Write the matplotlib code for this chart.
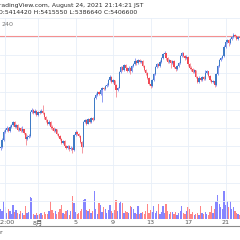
import numpy as np
import matplotlib
matplotlib.use('Agg')
import matplotlib.pyplot as plt
from matplotlib.lines import Line2D

# 4時間足 (index 0 = 7/28 00:00 JST), 価格は千円単位
open0 = 4180
closes = [
    4195, 4270, 4360, 4380, 4400, 4370, 4415, 4435, 4470, 4415,
    4435, 4380, 4400, 4370, 4390, 4345, 4280, 4305, 4315, 4575,
    4600, 4565, 4590, 4545, 4575, 4565, 4590, 4565, 4520, 4490,
    4445, 4470, 4415, 4400, 4370, 4390, 4335, 4315, 4280, 4240,
    4260, 4205, 4185, 4205, 4170, 4185, 4160, 4325, 4360, 4335,
    4315, 4250, 4195, 4470, 4490, 4445, 4500, 4470, 4510, 4490,
    4730, 4765, 4795, 4775, 4815, 4840, 4830, 4860, 4870, 4925,
    4960, 4905, 4925, 4870, 4815, 4840, 5015, 5070, 5035, 5090,
    5060, 5025, 5060, 5025, 5080, 5100, 5135, 5110, 5145, 5125,
    5135, 5080, 5035, 5000, 4950, 4885, 4860, 4925, 4990, 5070,
    5100, 5080, 5125, 5165, 5210, 5220, 5165, 5125, 5145, 5110,
    5135, 5070, 5045, 5080, 5110, 5190, 5220, 5190, 5165, 5180,
    5100, 5060, 5045, 5015, 5035, 4960, 4905, 4950, 4925, 4960,
    4940, 5000, 5025, 4970, 4925, 4905, 4915, 4870, 4990, 5080,
    5145, 5165, 5190, 5290, 5340, 5365, 5330, 5375, 5395, 5420,
    5410, 5375, 5395, 5385]
highs = [
    4225, 4290, 4375, 4400, 4420, 4410, 4430, 4450, 4480, 4475,
    4450, 4440, 4415, 4410, 4420, 4395, 4350, 4320, 4330, 4590,
    4615, 4610, 4605, 4595, 4590, 4595, 4610, 4655, 4575, 4530,
    4500, 4485, 4475, 4430, 4410, 4400, 4395, 4345, 4325, 4290,
    4275, 4265, 4215, 4220, 4210, 4200, 4195, 4340, 4375, 4365,
    4345, 4320, 4260, 4480, 4505, 4495, 4515, 4510, 4525, 4520,
    4745, 4780, 4810, 4805, 4830, 4850, 4855, 4875, 4890, 4940,
    4985, 4965, 4940, 4930, 4880, 4855, 5030, 5085, 5080, 5105,
    5100, 5070, 5075, 5065, 5095, 5115, 5170, 5145, 5160, 5155,
    5150, 5140, 5090, 5045, 5010, 4960, 4900, 4940, 5005, 5085,
    5115, 5110, 5140, 5180, 5225, 5245, 5225, 5175, 5160, 5150,
    5150, 5140, 5080, 5095, 5125, 5205, 5235, 5230, 5200, 5195,
    5185, 5110, 5075, 5055, 5050, 5040, 4970, 4965, 4960, 4975,
    4970, 5040, 5040, 5030, 4980, 4940, 4930, 4920, 5005, 5095,
    5160, 5180, 5205, 5305, 5355, 5380, 5375, 5390, 5410, 5445,
    5430, 5420, 5405, 5410]
lows = [
    4155, 4185, 4260, 4345, 4365, 4355, 4360, 4400, 4425, 4400,
    4405, 4365, 4370, 4355, 4360, 4330, 4215, 4270, 4295, 4305,
    4560, 4550, 4555, 4530, 4535, 4550, 4560, 4555, 4505, 4470,
    4430, 4435, 4395, 4380, 4355, 4360, 4320, 4300, 4265, 4225,
    4230, 4190, 4170, 4175, 4150, 4160, 4130, 4150, 4315, 4320,
    4300, 4235, 4130, 4190, 4455, 4430, 4440, 4455, 4460, 4475,
    4485, 4720, 4750, 4760, 4765, 4690, 4815, 4820, 4850, 4860,
    4915, 4890, 4895, 4855, 4745, 4805, 4835, 5005, 5020, 5025,
    5045, 5010, 5015, 4990, 5015, 5070, 5090, 5095, 5100, 5110,
    5115, 5065, 5020, 4985, 4935, 4870, 4840, 4850, 4915, 4980,
    5060, 5065, 5070, 5115, 5155, 5200, 5150, 5110, 5115, 5060,
    5100, 5055, 5030, 5035, 5070, 5100, 5180, 5175, 5150, 5155,
    5085, 5045, 5030, 5000, 5005, 4945, 4890, 4895, 4910, 4915,
    4925, 4930, 4990, 4955, 4910, 4890, 4895, 4855, 4865, 4980,
    5070, 5135, 5155, 5180, 5280, 5330, 5295, 5320, 5365, 5385,
    5395, 5360, 5365, 5370]
volumes = [
    10, 8, 18, 12, 6, 10, 8, 5, 14, 7,
    9, 6, 5, 8, 6, 4, 13, 6, 7, 22,
    21, 5, 4, 6, 4, 5, 6, 4, 7, 5,
    5, 8, 18, 9, 6, 8, 5, 7, 10, 14,
    6, 5, 8, 9, 4, 8, 23, 16, 7, 5,
    6, 8, 10, 19, 20, 9, 8, 10, 6, 8,
    28, 10, 5, 16, 14, 7, 12, 10, 6, 9,
    14, 8, 6, 9, 19, 8, 16, 18, 16, 6,
    8, 7, 6, 13, 12, 10, 6, 5, 13, 5,
    6, 7, 5, 8, 15, 6, 9, 7, 13, 6,
    8, 15, 5, 7, 13, 6, 15, 8, 5, 7,
    7, 5, 7, 4, 6, 8, 13, 6, 5, 8,
    12, 10, 5, 7, 4, 5, 6, 4, 13, 6,
    5, 7, 5, 4, 7, 13, 6, 10, 18, 24,
    15, 12, 10, 28, 14, 18, 12, 18, 10, 12,
    8, 6, 5, 4]

last_close = 5406.6
tick_pos = [3, 24, 48, 72, 96, 120, 144]
tick_labels = ['12:00', '8月', '5', '9', '13', '17', '21']
header1 = 'TradingView.com, August 24, 2021 21:14:21 JST'
header2 = 'O:5414420 H:5415550 L:5386640 C:5406600'

plt.rcParams['font.family'] = ['DejaVu Sans', 'Noto Sans CJK JP']

W = H = 240
fig = plt.figure(figsize=(2.4, 2.4), dpi=100)
fig.patch.set_facecolor('white')

def fx(px):
    return px / W

def fy(py):
    return 1 - py / H

rect = [0, fy(219), 1, fy(18) - fy(219)]
axv = fig.add_axes(rect, zorder=0)
ax = fig.add_axes(rect, zorder=1, sharex=axv)
ax.patch.set_alpha(0)

c = np.array(closes, dtype=float)
o = np.array([open0] + closes[:-1], dtype=float)
x = np.arange(len(c))
up = c >= o

up_col, dn_col = '#3f7cc6', '#f04a56'
body_col = [up_col if u else dn_col for u in up]
wick_col = ['#8796f2' if u else '#f5919a' for u in up]
vol_col = ['#8585ff' if u else '#ff8585' for u in up]

# 出来高
axv.bar(x, volumes, width=0.82, color=vol_col, linewidth=0)
axv.set_ylim(0, max(volumes) * 201 / 28)
axv.set_yticks([])
axv.tick_params(axis='x', length=0, labelbottom=False)
axv.set_facecolor('white')

# ローソク足
ax.vlines(x, lows, highs, colors=wick_col, linewidth=0.65, zorder=2)
ax.bar(x, np.maximum(np.abs(c - o), 5), bottom=np.minimum(o, c),
       width=0.82, color=body_col, linewidth=0, zorder=3)
ax.axhline(last_close, color='#f49090', linewidth=0.8, zorder=1)

ax.set_xlim(-0.32, 153.28)
ax.set_ylim(3405, 5605)
ax.set_yticks(range(3600, 5601, 200))
ax.set_xticks(tick_pos)
ax.set_xticklabels(tick_labels)
ax.grid(True, color='#e8eff8', linewidth=0.6, zorder=0)
ax.tick_params(axis='x', length=0, pad=0.6, labelsize=4.6, labelcolor='#555555')
ax.tick_params(axis='y', length=0, labelleft=False)
for a in (ax, axv):
    for s in a.spines.values():
        s.set_visible(False)

fig.add_artist(Line2D([0, 1], [fy(225.5)] * 2, color='#8a8a8a', linewidth=0.8))

fig.text(fx(-3.5), fy(6), header1, fontsize=4.4, color='#2a2a2a', va='center')
fig.text(fx(-2), fy(13), header2, fontsize=4.4, color='#2a2a2a', va='center')
fig.text(fx(2), fy(25), '240', fontsize=4.6, color='#777777', va='center')
fig.text(fx(-1), fy(232), 'r', fontsize=4.6, color='#444444', va='center')

fig.savefig('out.png', dpi=100)
